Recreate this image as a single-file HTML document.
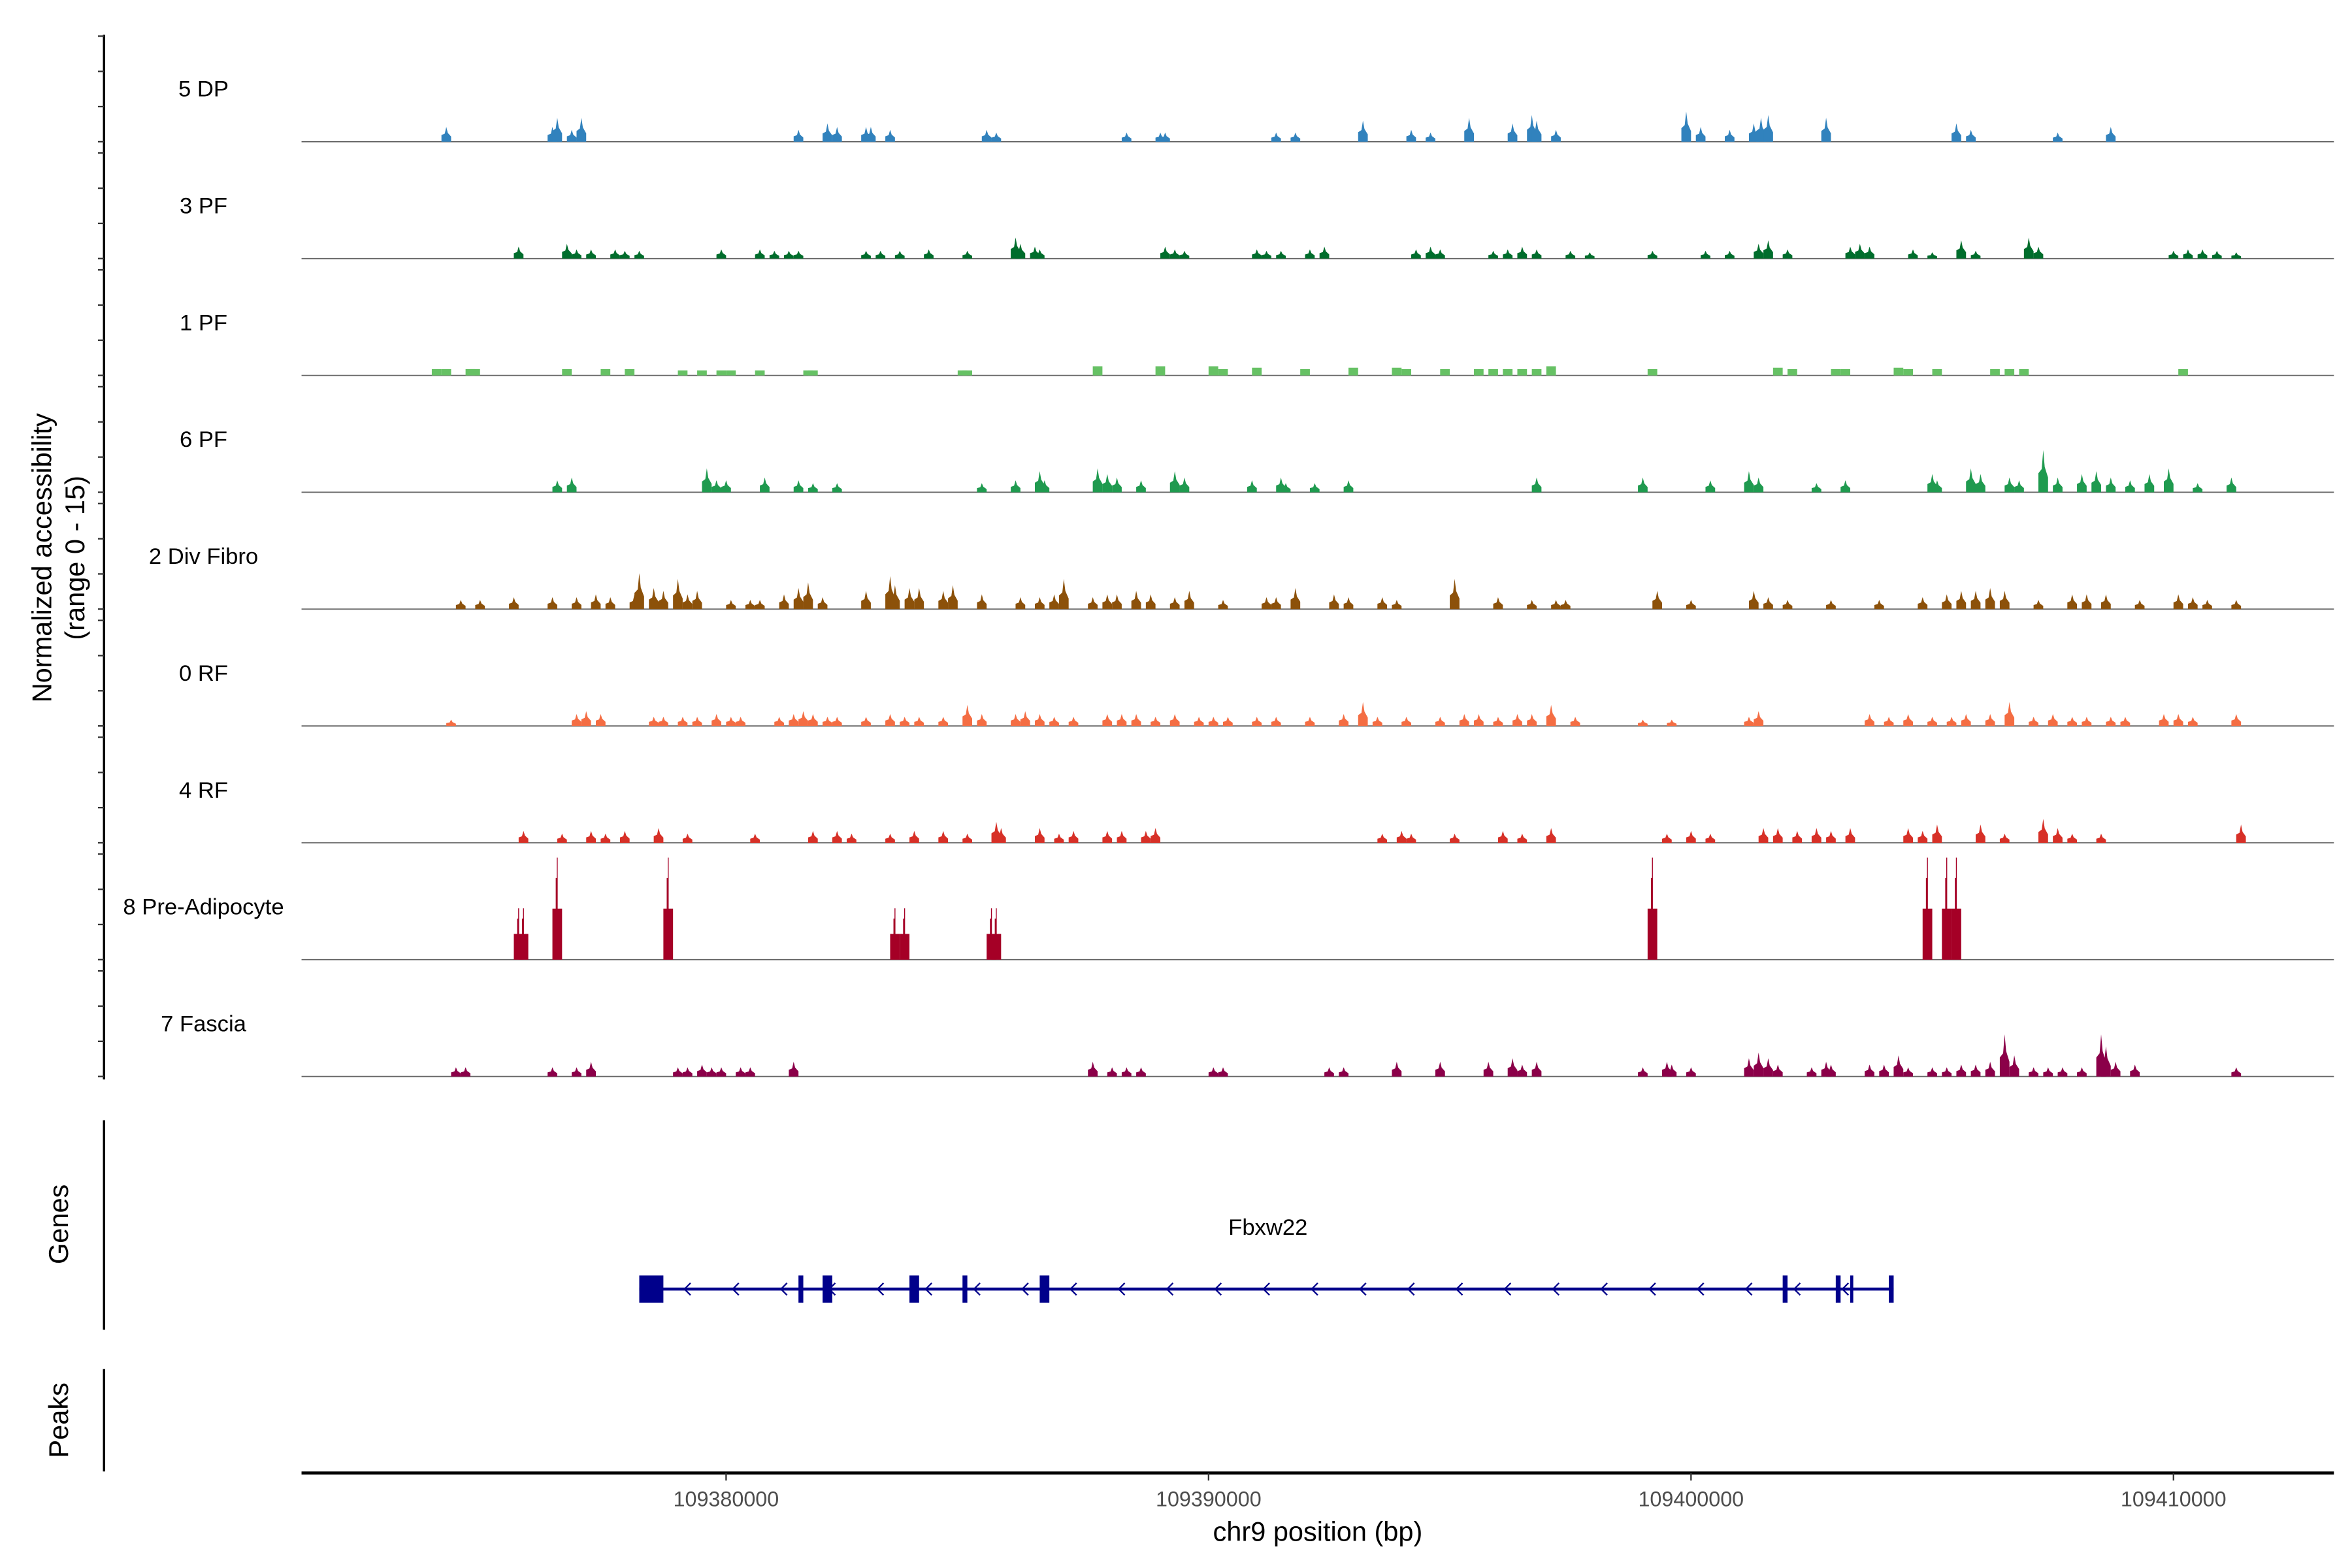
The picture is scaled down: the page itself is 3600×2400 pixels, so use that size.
<!DOCTYPE html>
<html><head><meta charset="utf-8">
<style>
html,body{margin:0;padding:0;background:#fff;}
svg{display:block;font-family:"Liberation Sans",Arial,sans-serif;}
</style></head>
<body>
<svg id="chart" xmlns="http://www.w3.org/2000/svg" width="3600" height="2400" viewBox="0 0 1560 1040">
<rect x="0" y="0" width="1560" height="1040" fill="#fff"/>
<g id="tracks"></g>
<g id="yaxis"></g>
<g id="gene"></g>
<g id="xaxis"></g>
<text x="0" y="0" transform="translate(34,370) rotate(-90)" text-anchor="middle" font-size="18" fill="#000">Normalized accessibility</text>
<text x="0" y="0" transform="translate(56,370) rotate(-90)" text-anchor="middle" font-size="18" fill="#000">(range 0 - 15)</text>
<text x="0" y="0" transform="translate(45,812) rotate(-90)" text-anchor="middle" font-size="18" fill="#000">Genes</text>
<text x="0" y="0" transform="translate(45,942) rotate(-90)" text-anchor="middle" font-size="18" fill="#000">Peaks</text>
<text x="874" y="1022" text-anchor="middle" font-size="18" fill="#000">chr9 position (bp)</text>
</svg>
<script>
// positions in kb minus 109000 kb (chr9); heights in normalized accessibility (0-15)
const chromKbOffset = 109000;
const trackNames = ["5 DP","3 PF","1 PF","6 PF","2 Div Fibro","0 RF","4 RF","8 Pre-Adipocyte","7 Fascia"];
const trackColors = ["#3182bd","#006d2c","#66c164","#1f9a4f","#8c510a","#f46d43","#d73027","#a50026","#8b0049"];
const posDP = [374.2,376.4,376.5,376.8,377.0,381.5,382.1,382.3,382.9,383.0,383.4,385.4,385.6,388.3,389.0,389.1,391.4,391.8,393.2,394.2,394.6,395.4,396.3,396.7,396.8,397.2,399.9,400.2,400.8,401.3,401.45,401.6,402.8,405.5,405.8,407.6,408.7];
const hDP = [2.1,2.1,3.4,1.7,3.4,1.7,2.6,2.1,2.1,2.1,1.7,1.7,1.3,1.3,1.3,1.3,1.3,1.3,3.0,1.7,1.3,3.4,2.6,3.8,3.0,1.7,4.3,2.1,1.7,2.6,3.4,3.8,3.4,2.6,1.7,1.3,2.1];
const pos3PF = [375.7,376.7,376.9,377.2,377.7,377.9,378.2,379.9,380.7,381.0,381.3,381.5,382.9,383.2,383.6,384.2,385.0,386.0,386.1,386.4,386.5,389.1,389.3,389.5,391.0,391.2,391.5,392.1,392.4,394.3,394.6,394.8,395.9,396.2,396.5,396.8,397.5,397.9,399.2,400.3,400.8,401.4,401.6,402.0,403.3,403.5,403.7,404.6,405.0,405.6,405.9,407.0,407.2,410.0,410.3,410.6,410.9,411.3];
const h3PF = [1.7,2.1,1.3,1.3,1.3,1.1,1.1,1.3,1.3,1.1,1.1,1.1,1.1,1.1,1.1,1.3,1.1,3.0,2.1,1.7,1.3,1.7,1.3,1.1,1.3,1.1,1.1,1.3,1.7,1.3,1.7,1.3,1.1,1.3,1.7,1.3,1.1,0.9,1.1,1.1,1.1,2.1,2.6,1.3,1.7,2.1,1.7,1.3,0.9,2.6,1.1,3.0,1.7,1.1,1.3,1.3,1.1,0.9];
const pos1PF = [374.0,374.2,374.7,374.8,376.7,377.5,378.0,379.1,379.5,379.9,380.1,380.7,381.7,381.8,384.9,385.0,387.7,389.0,390.1,390.3,391.0,392.0,393.0,393.9,394.1,394.9,395.6,395.9,396.2,396.5,396.8,397.1,399.2,401.8,402.1,403.0,403.2,404.3,404.5,405.1,406.3,406.6,406.9,410.2];
const h1PF = [0.9,0.9,0.9,0.9,0.9,0.9,0.9,0.7,0.7,0.7,0.7,0.7,0.7,0.7,0.7,0.7,1.3,1.3,1.3,0.9,1.1,0.9,1.1,1.1,0.9,0.9,0.9,0.9,0.9,0.9,0.9,1.3,0.9,1.1,0.9,0.9,0.9,1.1,0.9,0.9,0.9,0.9,0.9,0.9];
const pos6PF = [376.5,376.8,379.6,379.8,380.0,380.8,381.5,381.8,382.3,385.3,386.0,386.5,386.6,387.7,387.9,388.1,388.6,389.3,389.5,390.9,391.5,391.6,392.2,392.9,396.8,399.0,400.4,401.2,401.4,402.6,403.2,405.0,405.1,405.8,406.0,406.6,406.8,407.3,407.6,408.1,408.4,408.7,409.1,409.5,409.9,410.5,411.2];
const h6PF = [1.7,2.1,3.4,1.7,1.7,2.1,1.7,1.3,1.3,1.3,1.7,3.0,1.7,3.4,2.6,2.1,1.7,3.0,2.1,1.7,2.1,1.3,1.3,1.7,2.1,2.1,1.7,3.0,2.1,1.3,1.7,2.6,1.7,3.4,2.6,2.1,1.7,6.0,2.1,2.6,3.0,2.1,1.7,2.6,3.4,1.3,2.1];
const posDiv = [374.5,374.9,375.6,376.4,376.9,377.3,377.6,378.1,378.2,378.5,378.7,379.0,379.2,379.4,380.1,380.5,380.7,381.2,381.5,381.7,382.0,382.9,383.4,383.5,383.8,384.0,384.5,384.7,385.3,386.1,386.5,386.8,387.0,387.6,387.9,388.1,388.5,388.8,389.3,389.6,390.3,391.2,391.4,391.8,392.6,392.9,393.6,393.9,395.1,396.0,396.7,397.2,397.4,399.3,400.0,401.3,401.6,402.0,402.9,403.9,404.8,405.3,405.6,405.9,406.2,406.5,407.2,407.9,408.2,408.6,409.3,410.1,410.4,410.7,411.3];
const hDiv = [1.3,1.3,1.7,1.7,1.7,2.1,1.7,2.1,5.1,3.0,2.6,4.3,2.1,2.6,1.3,1.3,1.3,2.1,3.0,3.8,1.7,2.6,4.7,3.4,3.0,3.0,2.6,3.4,2.1,1.7,1.7,2.1,4.3,1.7,2.1,2.1,2.6,2.1,1.7,2.6,1.3,1.7,1.7,3.0,2.1,1.7,1.7,1.3,4.3,1.7,1.3,1.3,1.3,2.6,1.3,2.6,1.7,1.3,1.3,1.3,1.7,2.1,2.6,2.6,3.0,2.6,1.3,2.1,2.1,2.1,1.3,2.1,1.7,1.3,1.3];
const pos0RF = [374.3,376.9,377.1,377.4,378.5,378.7,379.1,379.4,379.8,380.1,380.3,381.1,381.4,381.6,381.8,382.1,382.3,382.9,383.4,383.7,384.0,384.5,385.0,385.3,386.0,386.2,386.5,386.8,387.2,387.9,388.2,388.5,388.9,389.3,389.8,390.1,390.4,391.0,391.4,392.1,392.8,393.2,393.5,394.1,394.8,395.3,395.6,396.0,396.4,396.7,397.1,397.6,399.0,399.6,401.2,401.4,403.7,404.1,404.5,405.0,405.4,405.7,406.2,406.6,407.1,407.5,407.9,408.2,408.7,409.0,409.8,410.1,410.4,411.3];
const h0RF = [0.9,1.7,2.1,1.7,1.3,1.3,1.3,1.3,1.7,1.3,1.3,1.3,1.7,2.1,1.7,1.3,1.3,1.3,1.7,1.3,1.3,1.3,3.0,1.7,1.7,2.1,1.7,1.3,1.3,1.7,1.7,1.7,1.3,1.7,1.3,1.3,1.3,1.3,1.3,1.3,1.7,3.4,1.3,1.3,1.3,1.7,1.7,1.3,1.7,1.7,3.0,1.3,0.9,0.9,1.3,2.1,1.7,1.3,1.7,1.3,1.3,1.7,1.7,3.4,1.3,1.7,1.3,1.3,1.3,1.3,1.7,1.7,1.3,1.7];
const pos4RF = [375.8,376.6,377.2,377.5,377.9,378.6,379.2,380.6,381.8,382.3,382.6,383.4,383.9,384.5,385.0,385.6,385.7,386.5,386.9,387.2,387.9,388.2,388.7,388.9,393.6,394.0,394.2,395.1,396.1,396.5,397.1,399.5,400.0,400.4,401.5,401.8,402.2,402.6,402.9,403.3,404.5,404.8,405.1,406.0,406.5,407.3,407.6,407.9,408.5,411.4];
const h4RF = [1.7,1.3,1.7,1.3,1.7,2.1,1.3,1.3,1.7,1.7,1.3,1.3,1.7,1.7,1.3,3.0,2.1,2.1,1.3,1.7,1.7,1.7,1.7,2.1,1.3,1.7,1.3,1.3,1.7,1.3,2.1,1.3,1.7,1.3,2.1,2.1,1.7,2.1,1.7,2.1,2.1,1.7,2.6,2.6,1.3,3.4,2.1,1.3,1.3,2.6];
const posPre = [375.7,375.8,376.5,378.8,383.5,383.7,385.5,385.6,399.2,404.9,405.3,405.5];
const hPre = [7.3,7.3,14.5,14.5,7.3,7.3,7.3,7.3,14.5,14.5,14.5,14.5];
const posFas = [374.4,374.6,376.4,376.9,377.2,379.0,379.2,379.5,379.7,379.9,380.3,380.5,381.4,387.6,388.0,388.3,388.6,390.1,390.3,392.5,392.8,393.9,394.8,395.8,396.3,396.5,396.8,399.0,399.5,399.6,400.0,401.2,401.4,401.6,401.8,402.5,402.8,402.9,403.7,404.0,404.3,404.5,405.0,405.3,405.6,405.9,406.2,406.5,406.7,407.1,407.4,407.7,408.1,408.5,408.6,408.8,409.2,411.3];
const hFas = [1.3,1.3,1.3,1.3,2.1,1.3,1.3,1.7,1.3,1.3,1.3,1.3,2.1,2.1,1.3,1.3,1.3,1.3,1.3,1.3,1.3,2.1,2.1,2.1,2.6,1.7,2.1,1.3,2.1,1.7,1.3,2.6,3.4,2.6,1.7,1.3,2.1,1.7,1.7,1.7,3.0,1.3,1.3,1.3,1.7,1.7,2.1,6.0,3.0,1.3,1.3,1.3,1.3,6.0,4.3,2.1,1.7,1.3];
const trackPos = [posDP,pos3PF,pos1PF,pos6PF,posDiv,pos0RF,pos4RF,posPre,posFas];
const trackH = [hDP,h3PF,h1PF,h6PF,hDiv,h0RF,h4RF,hPre,hFas];
const xTicks = [380,390,400,410];
const xTickLabels = ["109380000","109390000","109400000","109410000"];
const yTicks = [0,5,10,15];
const geneName = "Fbxw22";
const geneStart = 378.2, geneEnd = 404.2;
const exonStarts = [378.2,381.5,382.0,383.8,384.9,386.5,401.9,403.0,403.3,404.1];
const exonEnds =   [378.7,381.6,382.2,384.0,385.0,386.7,402.0,403.1,403.35,404.2];

const NS="http://www.w3.org/2000/svg";
const X0=200, X1=1548, KB0=371.2, PXKB=32;
function xs(kb){return X0+(kb-KB0)*PXKB;}
const base0=94, trackStep=77.5, trackH_px=70;
function ys(i,v){return base0+i*trackStep - v/15*trackH_px;}
function mk(tag,attrs,parent){const e=document.createElementNS(NS,tag);for(const k in attrs)e.setAttribute(k,attrs[k]);parent.appendChild(e);return e;}

const tg=document.getElementById('tracks');
trackNames.forEach((name,i)=>{
  const g=mk('g',{},tg);
  
  
  const base=ys(i,0);
  const lab=mk('text',{x:135,y:base-30,'text-anchor':'middle','font-size':15,fill:'#000'},g);
  lab.textContent=name;
  
  
  const bl=mk('line',{x1:X0,x2:X1,y1:base,y2:base,stroke:'#666','stroke-width':0.8},g);
  
  
  const P=trackPos[i],H=trackH[i];
  const w=(i===7)?0.2:0.2;
  for(let j=0;j<P.length;j++){
    const xl=xs(P[j]-w/2), xr=xs(P[j]+w/2), xc=xs(P[j]);
    let pts;
    if(i===7){
      const yb=ys(i,H[j]*0.5), yt=ys(i,H[j]);
      pts=[[xl,base],[xl,yb],[xc-1,yb],[xc-1,ys(i,H[j]*0.8)],[xc-0.3,ys(i,H[j]*0.8)],[xc-0.3,yt],[xc+0.3,yt],[xc+0.3,yb],[xr,yb],[xr,base]];
    } else if(i===2){
      const yt=ys(i,H[j]);
      pts=[[xl,base],[xl,yt],[xr,yt],[xr,base]];
    } else {
      pts=[[xl,base],[xl,ys(i,H[j]*0.45)],[xc-1,ys(i,H[j]*0.55)],[xc,ys(i,H[j])],[xc+1,ys(i,H[j]*0.6)],[xr,ys(i,H[j]*0.35)],[xr,base]];
    }
    const p=mk('polygon',{points:pts.map(q=>q[0].toFixed(2)+','+q[1].toFixed(2)).join(' '),fill:trackColors[i]},g);
    
    
  }
});

const yg=document.getElementById('yaxis');
const ya=mk('line',{x1:69,x2:69,y1:ys(0,15)-1,y2:ys(8,0)+2,stroke:'#000','stroke-width':1.5},yg);


trackNames.forEach((n,i)=>{yTicks.forEach(v=>{
  const t=mk('line',{x1:65,x2:69,y1:ys(i,v),y2:ys(i,v),stroke:'#333','stroke-width':1},yg);
  
  
});});
const ga=mk('line',{x1:69,x2:69,y1:743,y2:882,stroke:'#000','stroke-width':1.5},yg);


const pa=mk('line',{x1:69,x2:69,y1:908,y2:976,stroke:'#000','stroke-width':1.5},yg);



const gg=document.getElementById('gene');
const gy=855, col='#00008b';
const gl=mk('line',{x1:xs(geneStart),x2:xs(geneEnd),y1:gy,y2:gy,stroke:col,'stroke-width':2},gg);


for(let kb=geneStart+1;kb<geneEnd;kb+=1){
  const x=xs(kb);
  const a=mk('polyline',{points:(x+2)+','+(gy-4)+' '+(x-2)+','+gy+' '+(x+2)+','+(gy+4),fill:'none',stroke:col,'stroke-width':1},gg);
  
  
}
for(let j=0;j<exonStarts.length;j++){
  const x=xs(exonStarts[j]), w=Math.max(2,xs(exonEnds[j])-x);
  const r=mk('rect',{x:x,y:gy-9,width:w,height:18,fill:col},gg);
  
  
}
const gt=mk('text',{x:841,y:819,'text-anchor':'middle','font-size':15,fill:'#000'},gg);
gt.textContent=geneName;



const xg=document.getElementById('xaxis');
const xl=mk('line',{x1:X0,x2:X1,y1:977,y2:977,stroke:'#000','stroke-width':2},xg);


xTicks.forEach((v,k)=>{
  const t=mk('line',{x1:xs(v),x2:xs(v),y1:977,y2:982,stroke:'#333','stroke-width':1},xg);
  
  
  const l=mk('text',{x:xs(v),y:999,'text-anchor':'middle','font-size':14,fill:'#4d4d4d'},xg);
  l.textContent=xTickLabels[k];
  
  
});
</script>
</body></html>
